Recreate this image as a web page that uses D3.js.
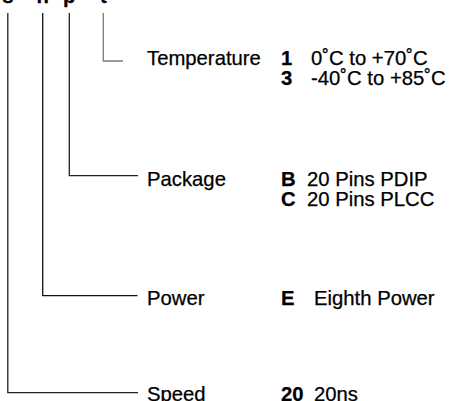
<!DOCTYPE html>
<html>
<head>
<meta charset="utf-8">
<script src="https://cdn.jsdelivr.net/npm/d3@7"></script>
<style>
    html, body { margin: 0; padding: 0; background: #fff; }
    #ordering text { font-family: "Liberation Sans", Arial, Helvetica, sans-serif; font-size: 20.3px; fill: #000; stroke: #000; stroke-width: 0.25; }
    #ordering .code, #ordering .part { font-weight: bold; }
</style>
</head>
<body>
<div id="ordering"></div>
<script>
"use strict";

// Fields of the part number, top to bottom
const fields = ["Temperature", "Package", "Power", "Speed"];
const codes = [["1", "3"], ["B", "C"], ["E"], ["20"]];
const descriptions = [
    ["0˚C to +70˚C", "-40˚C to +85˚C"],
    ["20 Pins PDIP", "20 Pins PLCC"],
    ["Eighth Power"],
    ["20ns"]
];
// Part number characters above each leader (mostly cut off by the top edge)
const partChars = ["t", "p", "n", "s"];

function drawOrdering() {
    const width = 452, height = 401;

    const svg = d3.select("#ordering")
        .append("svg")
        .attr("width", width)
        .attr("height", height);

    // Layout scales
    const leaderX = d3.scaleOrdinal().domain(fields).range([103.3, 69.3, 42.7, 7.8]);
    const leaderY = d3.scaleOrdinal().domain(fields).range([61, 175.7, 295.7, 392.7]);
    const leaderEnd = d3.scaleOrdinal().domain(fields).range([123, 138, 137.5, 138]);
    const leaderColor = d3.scaleOrdinal().domain(fields).range(["#7a7a7a", "#222", "#111", "#222"]);
    const baseY = d3.scaleOrdinal().domain(fields).range([65, 185.5, 304.5, 400.5]);
    const descX = d3.scaleOrdinal().domain(fields).range([311, 307, 314, 314]);
    const labelX = 147, codeX = 281, lineTop = 13, rowStep = 20;

    const rows = fields.map((f, i) => ({
        field: f,
        part: partChars[i],
        lines: codes[i].map((c, j) => ({ code: c, desc: descriptions[i][j] }))
    }));

    // Part number fragments at the very top
    svg.selectAll(".part")
        .data(rows)
        .join("text")
        .attr("class", "part")
        .attr("x", d => leaderX(d.field))
        .attr("y", 3)
        .attr("text-anchor", "middle")
        .text(d => d.part);

    // Leader lines
    svg.selectAll(".leader")
        .data(rows)
        .join("path")
        .attr("class", "leader")
        .attr("fill", "none")
        .attr("stroke", d => leaderColor(d.field))
        .attr("stroke-width", 1.3)
        .attr("d", d => {
            const x = leaderX(d.field), y = leaderY(d.field);
            return `M${x},${lineTop}V${y}H${leaderEnd(d.field)}`;
        });

    // Field names
    svg.selectAll(".label")
        .data(rows)
        .join("text")
        .attr("class", "label")
        .attr("x", labelX)
        .attr("y", d => baseY(d.field))
        .text(d => d.field);

    // Option codes and descriptions
    const groups = svg.selectAll(".options")
        .data(rows)
        .join("g")
        .attr("class", "options");

    groups.selectAll(".code")
        .data(d => d.lines.map((l, j) => ({ ...l, field: d.field, j })))
        .join("text")
        .attr("class", "code")
        .attr("x", codeX)
        .attr("y", d => baseY(d.field) + d.j * rowStep)
        .text(d => d.code);

    groups.selectAll(".desc")
        .data(d => d.lines.map((l, j) => ({ ...l, field: d.field, j })))
        .join("text")
        .attr("class", "desc")
        .attr("x", d => descX(d.field))
        .attr("y", d => baseY(d.field) + d.j * rowStep)
        .text(d => d.desc);
}

drawOrdering();
</script>
</body>
</html>
